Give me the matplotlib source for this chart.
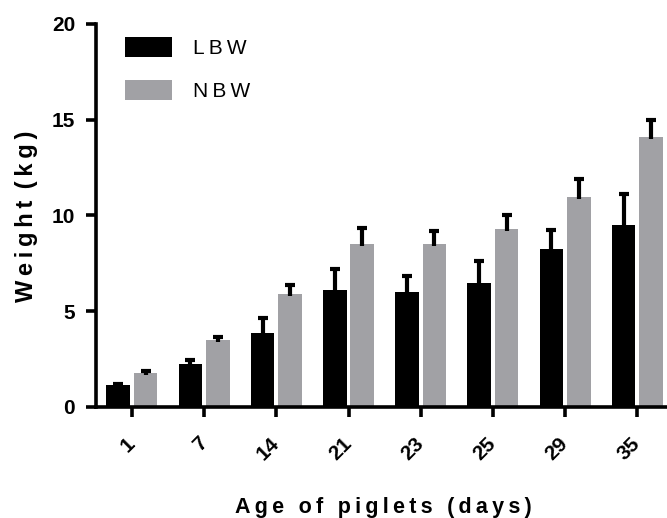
import numpy as np
import matplotlib
matplotlib.use("Agg")
import matplotlib.pyplot as plt

plt.rcParams['font.family'] = ['Liberation Sans', 'DejaVu Sans']

# Data (mean and upper SD)
days = ['1', '7', '14', '21', '23', '25', '29', '35']
lbw_mean = [1.17, 2.26, 3.88, 6.12, 5.98, 6.47, 8.23, 9.50]
lbw_sd = [0.05, 0.20, 0.77, 1.07, 0.88, 1.13, 0.99, 1.63]
nbw_mean = [1.79, 3.48, 5.91, 8.52, 8.50, 9.29, 10.94, 14.10]
nbw_sd = [0.07, 0.16, 0.46, 0.81, 0.70, 0.73, 0.94, 0.87]
groups = ['LBW', 'NBW']
colors = ['#000000', '#a1a1a5']


def spaced(s):
    # widen letter spacing like the original
    return '\u2009'.join(s)


fig = plt.figure(figsize=(6.67, 5.18), dpi=100)
ax = fig.add_axes([96 / 667, 1 - 407 / 518, 571 / 667, 383 / 518])

x = np.arange(len(days))
width = 0.325
offset = 0.19

for i, (means, sds) in enumerate([(lbw_mean, lbw_sd), (nbw_mean, nbw_sd)]):
    xs = x + (i * 2 - 1) * offset
    means = np.array(means)
    sds = np.array(sds)
    ax.bar(xs, means, width, color=colors[i], label=spaced(groups[i]), zorder=2)
    ax.vlines(xs, means - 0.1, means + sds, color='black', lw=3, zorder=3)
    ax.plot(xs, means + sds, ls='none', marker='_', ms=7, mew=3,
            color='black', zorder=3)

ax.set_xlim(-0.497, 7.411)
ax.set_ylim(0, 20)
ax.set_yticks([0, 5, 10, 15, 20])
ax.set_xticks(x)
ax.set_xticklabels(days)

for side in ['top', 'right']:
    ax.spines[side].set_visible(False)
for side in ['left', 'bottom']:
    ax.spines[side].set_linewidth(2.6)

ax.tick_params(axis='both', length=7, width=2.6, labelsize=15)
ax.tick_params(axis='y', pad=8)
ax.tick_params(axis='x', pad=17)
for lab in ax.get_yticklabels():
    lab.set_fontweight('bold')
for lab in ax.get_xticklabels():
    lab.set_fontweight('bold')
    lab.set_rotation(45)
    lab.set_ha('right')
    lab.set_va('center')
    lab.set_rotation_mode('anchor')

ax.set_ylabel(spaced('Weight') + ' \u2009' + spaced('(kg)'), fontsize=17,
              fontweight='bold', va='center')
ax.yaxis.set_label_coords(-0.122, 0.497)
ax.set_xlabel('\u2009 \u2009'.join(spaced(w) for w in 'Age of piglets (days)'.split()),
              fontsize=15.5, fontweight='bold', va='baseline')
ax.xaxis.set_label_coords(0.504, -0.276)

ax.legend(loc='upper left', bbox_to_anchor=(0.0508, 0.965), frameon=False,
          fontsize=15, handlelength=2.26, handleheight=1.06, handletextpad=1.0,
          labelspacing=1.05, borderpad=0, borderaxespad=0)

fig.savefig('out.png', dpi=100)
